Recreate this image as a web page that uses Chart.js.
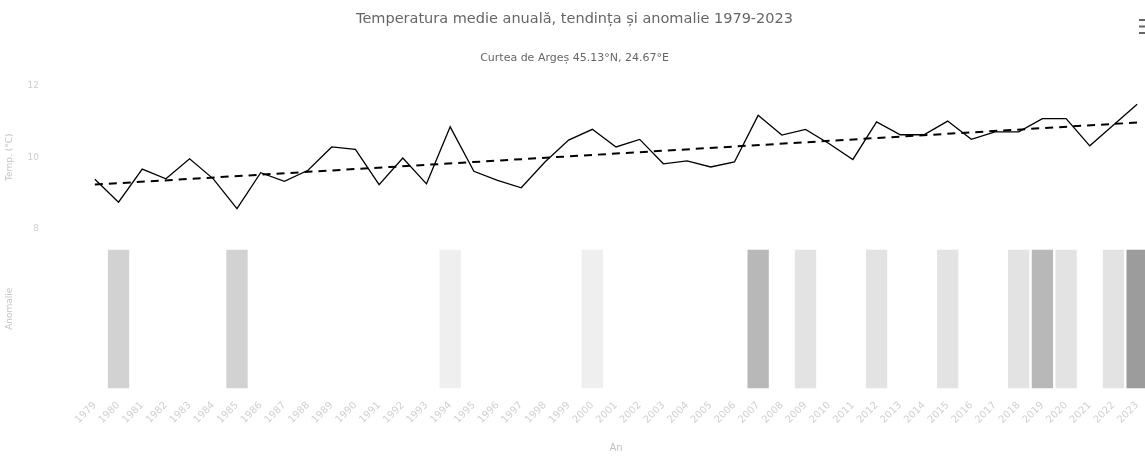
<!DOCTYPE html>
<html>
<head>
<meta charset="utf-8">
<title>Temperatura medie anuală</title>
<script src="https://cdn.jsdelivr.net/npm/chart.js@4.4.1/dist/chart.umd.min.js"></script>
<style>
  html, body { margin: 0; padding: 0; background: #fff; overflow: hidden; }
  #wrap { position: relative; width: 1150px; height: 472px; }
</style>
</head>
<body>
<div id="wrap"><canvas id="grafic"></canvas></div>
<script>
// Ani 1979-2023
const ANI = ['1979','1980','1981','1982','1983','1984','1985','1986','1987','1988',
             '1989','1990','1991','1992','1993','1994','1995','1996','1997','1998',
             '1999','2000','2001','2002','2003','2004','2005','2006','2007','2008',
             '2009','2010','2011','2012','2013','2014','2015','2016','2017','2018',
             '2019','2020','2021','2022','2023'];

// Temperatura medie anuală (°C)
const TEMPERATURI = [9.39, 8.75, 9.67, 9.40, 9.96, 9.40, 8.57, 9.57, 9.33, 9.64,
                     10.29, 10.22, 9.24, 9.98, 9.26, 10.85, 9.61, 9.36, 9.15, 9.87,
                     10.48, 10.78, 10.29, 10.50, 9.82, 9.90, 9.73, 9.87, 11.17, 10.62,
                     10.78, 10.38, 9.94, 10.99, 10.63, 10.63, 11.01, 10.50, 10.71, 10.71,
                     11.08, 11.08, 10.32, 10.90, 11.48];

// Capetele dreptei de tendință
const TENDINTA_START = 9.24;
const TENDINTA_FINAL = 10.97;

// Intensitatea anomaliei pe ani (0 = neglijabilă ... 5 = foarte mare)
const INTENSITATE = [0, 3, 0, 0, 0, 0, 3, 0, 0, 0,
                     0, 0, 0, 0, 0, 1, 0, 0, 0, 0,
                     0, 1, 0, 0, 0, 0, 0, 0, 4, 0,
                     2, 0, 0, 2, 0, 0, 2, 0, 0, 2,
                     4, 2, 0, 2, 5];

const Y_TICKS = [8, 10, 12];

const NUANTE = ['rgba(0,0,0,0)', '#efefef', '#e3e3e3', '#d2d2d2', '#b8b8b8', '#9c9c9c'];

// iconița de meniu din colțul dreapta-sus
const meniuPlugin = {
  id: 'meniu',
  afterDraw(chart) {
    const ctx = chart.ctx;
    const x = chart.width - 11;
    ctx.save();
    ctx.strokeStyle = '#666';
    ctx.lineWidth = 2;
    [20, 26.5, 33].forEach(y => {
      ctx.beginPath();
      ctx.moveTo(x, y);
      ctx.lineTo(x + 10, y);
      ctx.stroke();
    });
    ctx.restore();
  }
};

const FONT = 'DejaVu Sans, sans-serif';

new Chart(document.getElementById('grafic'), {
  data: {
    labels: ANI,
    datasets: [
      {
        type: 'line',
        label: 'Temperatura medie',
        data: TEMPERATURI,
        yAxisID: 'y',
        borderColor: '#000',
        borderWidth: 1.3,
        pointRadius: 0,
        tension: 0,
        order: 1
      },
      {
        type: 'line',
        label: 'Tendință',
        data: [{ x: ANI[0], y: TENDINTA_START }, { x: ANI[ANI.length - 1], y: TENDINTA_FINAL }],
        yAxisID: 'y',
        borderColor: '#000',
        borderWidth: 2,
        borderDash: [8, 6],
        pointRadius: 0,
        order: 0
      },
      {
        type: 'bar',
        label: 'Anomalie',
        data: ANI.map(() => 1),
        yAxisID: 'y2',
        backgroundColor: INTENSITATE.map(v => NUANTE[v]),
        borderWidth: 0,
        barPercentage: 0.9,
        categoryPercentage: 1,
        order: 2
      }
    ]
  },
  options: {
    responsive: true,
    maintainAspectRatio: false,
    animation: false,
    layout: { padding: { left: 0, right: 1, top: 0, bottom: 14 } },
    plugins: {
      legend: { display: false },
      tooltip: { enabled: false },
      title: {
        display: true,
        text: 'Temperatura medie anuală, tendința și anomalie 1979-2023',
        color: '#666',
        font: { family: FONT, size: 14.5, weight: 'normal' },
        padding: { top: 11, bottom: 23 }
      },
      subtitle: {
        display: true,
        text: 'Curtea de Argeș 45.13°N, 24.67°E',
        color: '#666',
        font: { family: FONT, size: 11 },
        padding: { top: 0, bottom: 21 }
      }
    },
    scales: {
      x: {
        type: 'category',
        offset: true,
        grid: { display: false },
        border: { display: false },
        ticks: {
          color: '#d0d0d0',
          font: { family: FONT, size: 10 },
          minRotation: 45,
          maxRotation: 45,
          autoSkip: false
        },
        title: {
          display: true,
          text: 'An',
          color: '#c0c0c0',
          font: { family: FONT, size: 10 },
          padding: { top: 13 }
        }
      },
      // panoul de jos: benzile de anomalie
      y2: {
        position: 'left',
        stack: 'panouri',
        stackWeight: 159,
        min: 0,
        max: 1.15,
        grid: { display: false },
        border: { display: false },
        afterFit: s => { s.width = 83; },
        ticks: { display: false },
        title: {
          display: true,
          text: 'Anomalie',
          color: '#c4c4c4',
          font: { family: FONT, size: 9 }
        }
      },
      // panoul de sus: temperatura și tendința
      y: {
        position: 'left',
        stack: 'panouri',
        stackWeight: 143,
        min: 8,
        max: 12,
        grid: { display: false },
        border: { display: false },
        afterBuildTicks: s => { s.ticks = Y_TICKS.map(v => ({ value: v })); },
        afterFit: s => { s.width = 83; },
        ticks: { color: '#cfcfcf', font: { family: FONT, size: 9 }, padding: 36 },
        title: {
          display: true,
          text: 'Temp. (°C)',
          color: '#c4c4c4',
          font: { family: FONT, size: 9 }
        }
      }
    }
  },
  plugins: [meniuPlugin]
});
</script>
</body>
</html>
